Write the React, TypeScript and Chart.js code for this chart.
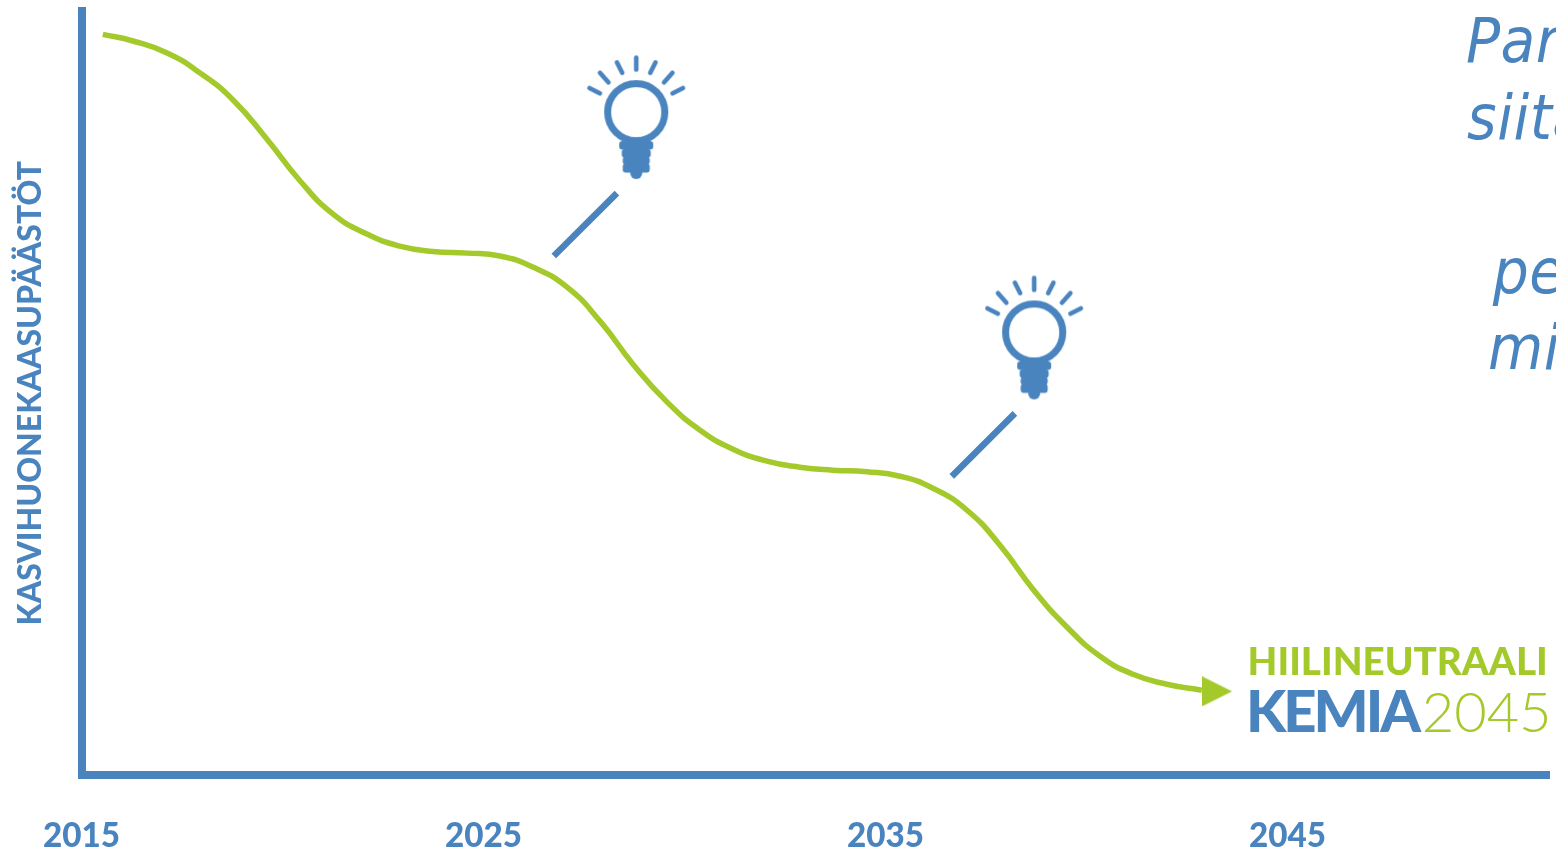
import React, { useEffect, useRef } from "react";
import { Chart, registerables } from "chart.js";

Chart.register(...registerables);

const BLUE = "#4a84bf";
const GREEN = "#a4c92b";

const tickYears = [2015, 2025, 2035, 2045];
const yAxisTitle = "KASVIHUONEKAASUPÄÄSTÖT";

const pathYears = [2015.53, 2016.28, 2017.13, 2017.95, 2018.77, 2019.61, 2020.44, 2021.26, 2022.1, 2022.92, 2023.74, 2024.59, 2025.41, 2026.23, 2027.08, 2027.9, 2028.72, 2029.57, 2030.39, 2031.21, 2032.05, 2032.87, 2033.69, 2034.54, 2035.36, 2036.18, 2037.03, 2037.85, 2038.67, 2039.52, 2040.34, 2041.16, 2042.0, 2042.87];
const pathValues = [96.48, 95.61, 94.05, 91.44, 87.93, 82.84, 77.37, 73.07, 70.46, 68.89, 68.18, 67.98, 67.6, 66.16, 63.55, 59.12, 53.52, 48.57, 44.92, 42.44, 40.88, 40.1, 39.71, 39.51, 38.92, 37.36, 34.49, 29.93, 24.2, 19.25, 15.47, 13.12, 11.82, 11.04];

const arrowYear = [2043.25];
const arrowValue = [10.9];

const connectorAYears = [2026.75, 2028.32];
const connectorAValues = [67.6, 75.8];
const connectorBYears = [2036.65, 2038.22];
const connectorBValues = [38.9, 47.1];

const bulbYears = [2028.8, 2038.7];
const bulbValues = [85.7, 57.0];

const labelTexts = ["Para", "siita", "pe", "mi", "HIILINEUTRAALI", "KEMIA", "2045"];
const labelYears = [2049.44, 2049.47, 2050.11, 2049.99, 2044.01, 2043.97, 2048.34];
const labelValues = [92.9, 82.85, 62.77, 52.87, 13.0, 5.6, 5.6];

const ITALIC = "italic 400 63px 'DejaVu Sans Condensed', 'DejaVu Sans'";
const labelFonts = [ITALIC, ITALIC, ITALIC, ITALIC, "900 38.6px Lato", "900 58px Lato", "300 56px Lato"];
const labelSpacing = ["0.5px", "0.5px", "0.5px", "0.5px", "0px", "-3px", "0px"];
const labelColors = [BLUE, BLUE, BLUE, BLUE, GREEN, BLUE, GREEN];

function makeArrow() {
  const c = document.createElement("canvas");
  c.width = 30;
  c.height = 30;
  const g = c.getContext("2d")!;
  g.fillStyle = GREEN;
  g.beginPath();
  g.moveTo(0, 0);
  g.lineTo(30, 15);
  g.lineTo(0, 30);
  g.closePath();
  g.fill();
  return c;
}

function makeBulb() {
  const c = document.createElement("canvas");
  c.width = 110;
  c.height = 130;
  const g = c.getContext("2d")!;
  g.translate(55, 60);
  g.strokeStyle = BLUE;
  g.fillStyle = BLUE;
  g.lineCap = "round";
  g.lineWidth = 4.6;
  const rays = [
    [0, -54.5, 0, -42.5],
    [-19.3, -49.7, -14, -39.3],
    [19.3, -49.7, 14, -39.3],
    [-36.2, -39.2, -27.8, -29.8],
    [36.2, -39.2, 27.8, -29.8],
    [-46.7, -24, -36.3, -18.7],
    [46.7, -24, 36.3, -18.7],
  ];
  for (const [a, b, d, e] of rays) {
    g.beginPath();
    g.moveTo(a, b);
    g.lineTo(d, e);
    g.stroke();
  }
  g.lineCap = "butt";
  g.lineWidth = 7;
  g.beginPath();
  g.arc(0, 0, 28.6, 0, Math.PI * 2);
  g.stroke();
  const parts = [
    [-17, 29, 34, 8.5],
    [-14.5, 37, 29, 8.5],
    [-13.5, 44.5, 27, 8],
    [-13.5, 51.5, 27, 9],
  ];
  for (const [x, y, w, h] of parts) {
    g.beginPath();
    g.roundRect(x, y, w, h, 3);
    g.fill();
  }
  g.beginPath();
  g.arc(0, 61, 6, 0, Math.PI * 2);
  g.fill();
  return c;
}

const labelsPlugin = {
  id: "labelsPlugin",
  afterDatasetsDraw(chart: any) {
    const { ctx, scales } = chart;
    ctx.save();
    ctx.textAlign = "left";
    ctx.textBaseline = "alphabetic";
    labelTexts.forEach((t, i) => {
      ctx.font = labelFonts[i];
      ctx.letterSpacing = labelSpacing[i];
      ctx.fillStyle = labelColors[i];
      ctx.fillText(t, scales.x.getPixelForValue(labelYears[i]), scales.y.getPixelForValue(labelValues[i]));
    });
    ctx.restore();
  },
};

const zip = (xs: number[], ys: number[]) => xs.map((x, i) => ({ x, y: ys[i] }));

export default function App() {
  const ref = useRef<HTMLCanvasElement>(null);
  useEffect(() => {
    const connector = {
      borderColor: BLUE,
      borderWidth: 6.5,
      pointRadius: 0,
      showLine: true,
      tension: 0,
    };
    const chart = new Chart(ref.current!, {
      type: "scatter",
      data: {
        datasets: [
          {
            data: zip(pathYears, pathValues),
            borderColor: GREEN,
            borderWidth: 5.5,
            pointRadius: 0,
            showLine: true,
            tension: 0.5,
          },
          { data: zip(arrowYear, arrowValue), pointStyle: makeArrow(), pointRadius: 1 },
          { data: zip(connectorAYears, connectorAValues), ...connector },
          { data: zip(connectorBYears, connectorBValues), ...connector },
          { data: zip(bulbYears, bulbValues), pointStyle: makeBulb(), pointRadius: 1 },
        ] as any,
      },
      options: {
        animation: false,
        responsive: false,
        events: [],
        layout: { padding: { top: 11.3, right: 6.5, left: 0, bottom: 0 }, autoPadding: false },
        plugins: { legend: { display: false }, tooltip: { enabled: false } },
        scales: {
          x: {
            type: "linear",
            min: 2015,
            max: 2051.52,
            afterBuildTicks: (axis: any) => {
              axis.ticks = tickYears.map((value) => ({ value }));
            },
            afterFit: (axis: any) => {
              axis.height = 74;
              axis.paddingLeft = 0;
              axis.paddingRight = 0;
            },
            border: { display: true, color: BLUE, width: 8 },
            grid: { display: false, drawTicks: false },
            ticks: {
              color: BLUE,
              padding: 41,
              autoSkip: false,
              maxRotation: 0,
              font: { family: "Lato", weight: 900, size: 33.2 },
              callback: (v: any) => String(v),
            },
          },
          y: {
            type: "linear",
            min: 0,
            max: 99.48,
            afterFit: (axis: any) => {
              axis.width = 81.5;
              axis.paddingTop = 0;
              axis.paddingBottom = 0;
            },
            border: { display: true, color: BLUE, width: 8 },
            grid: { display: false, drawTicks: false },
            ticks: { display: false },
            title: {
              display: true,
              text: yAxisTitle,
              color: BLUE,
              padding: { top: 11, bottom: 0 },
              font: { family: "Lato", weight: 900, size: 32 },
            },
          },
        },
      },
      plugins: [labelsPlugin],
    } as any);
    return () => chart.destroy();
  }, []);
  return (
    <div style={{ position: "fixed", left: 0, top: 0, width: 1556, height: 849, background: "#fff" }}>
      <canvas ref={ref} width={1556} height={849} style={{ display: "block" }} />
    </div>
  );
}
